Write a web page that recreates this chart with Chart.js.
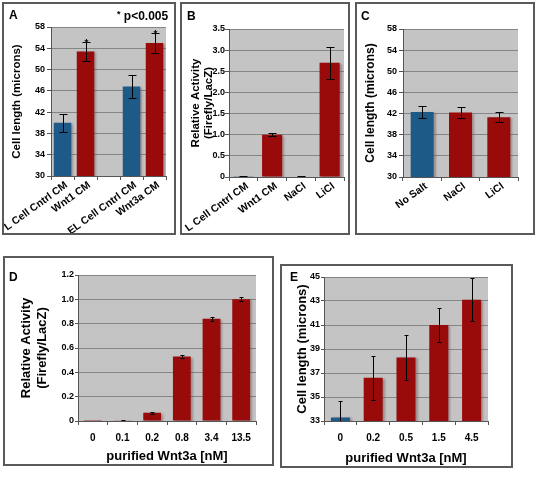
<!DOCTYPE html>
<html><head><meta charset="utf-8">
<script src="https://cdn.jsdelivr.net/npm/chart.js@4.4.1/dist/chart.umd.min.js"></script>
<style>
html,body{margin:0;padding:0;background:#fff;}
body{width:537px;height:477px;position:relative;overflow:hidden;font-family:"Liberation Sans",Arial,sans-serif;}
.box{position:absolute;border:2px solid #5a5a5a;box-sizing:border-box;overflow:hidden;background:#fff;}
.box canvas{position:absolute;left:0;top:0;}
.t{position:absolute;font-weight:bold;color:#000;line-height:1;white-space:nowrap;z-index:2;}
</style></head><body>
<div class="box" style="left:2px;top:2px;width:174px;height:233px"><canvas id="cA" width="170" height="229"></canvas></div>
<div class="box" style="left:180px;top:2px;width:170px;height:233px"><canvas id="cB" width="166" height="229"></canvas></div>
<div class="box" style="left:355px;top:2px;width:180px;height:233px"><canvas id="cC" width="176" height="229"></canvas></div>
<div class="box" style="left:3px;top:256px;width:271px;height:210px"><canvas id="cD" width="267" height="206"></canvas></div>
<div class="box" style="left:280px;top:264px;width:233px;height:204px"><canvas id="cE" width="229" height="200"></canvas></div>
<div class="t" style="left:9px;top:9px;font-size:12px">A</div>
<div class="t" style="left:187px;top:10px;font-size:12px">B</div>
<div class="t" style="left:361px;top:10px;font-size:12px">C</div>
<div class="t" style="left:9px;top:271px;font-size:12px">D</div>
<div class="t" style="left:290px;top:271px;font-size:12px">E</div>
<div class="t" style="left:117px;top:10px;font-size:12px"><span style="font-size:9px;position:relative;top:-3px">*</span> p&lt;0.005</div>
<script>
// ---------- data ----------
const aLabels  = ['L Cell Cntrl CM', 'Wnt1 CM', '', 'EL Cell Cntrl CM', 'Wnt3a CM'];
const aValues  = [40.0, 53.4, null, 46.8, 55.0];
const aErrors  = [1.7, 1.8, null, 2.1, 1.9];
const aControl = [true, false, false, true, false];
const aStars   = [false, true, false, false, true];
const aYTicks  = [30, 34, 38, 42, 46, 50, 54, 58];

const bLabels  = ['L Cell Cntrl CM', 'Wnt1 CM', 'NaCl', 'LiCl'];
const bValues  = [0.005, 1.0, 0.012, 2.7];
const bErrors  = [0.01, 0.04, 0.005, 0.38];
const bControl = [true, false, false, false];
const bYTicks  = [0, 0.5, 1.0, 1.5, 2.0, 2.5, 3.0, 3.5];

const cLabels  = ['No Salt', 'NaCl', 'LiCl'];
const cValues  = [42.3, 42.2, 41.3];
const cErrors  = [1.2, 1.1, 0.95];
const cControl = [true, false, false];
const cYTicks  = [30, 34, 38, 42, 46, 50, 54, 58];

const dLabels  = ['0', '0.1', '0.2', '0.8', '3.4', '13.5'];
const dValues  = [0.001, 0.003, 0.068, 0.53, 0.84, 1.0];
const dErrors  = [0.001, 0.002, 0.007, 0.012, 0.014, 0.017];
const dControl = [false, false, false, false, false, false];
const dYTicks  = [0, 0.2, 0.4, 0.6, 0.8, 1.0, 1.2];

const eLabels  = ['0', '0.2', '0.5', '1.5', '4.5'];
const eValues  = [33.3, 36.6, 38.3, 41.0, 43.1];
const eErrors  = [1.4, 1.85, 1.9, 1.45, 1.8];
const eControl = [true, false, false, false, false];
const eYTicks  = [33, 35, 37, 39, 41, 43, 45];

const cellTitle = 'Cell length (microns)';
const actTitle  = ['Relative Activity', '(Firefly/LacZ)'];
const doseTitle = 'purified Wnt3a [nM]';

// ---------- styles ----------
const BLUE = '#1e5a87', RED = '#990a0a', PLOT_BG = '#c4c4c4', GRID = '#858585', AXIS = '#555555';
const SHADOW = 'rgba(110,70,70,0.45)';
const FAMILY = "'Liberation Sans', Arial, sans-serif";
Chart.defaults.font.family = FAMILY;
Chart.defaults.color = '#000';

const plotBg = {
  id: 'plotbg',
  beforeDraw(chart) {
    const {ctx, chartArea: a} = chart;
    ctx.save(); ctx.fillStyle = PLOT_BG;
    ctx.fillRect(a.left, a.top, a.width, a.height);
    ctx.restore();
  },
  beforeDatasetsDraw(chart) {
    const ctx = chart.ctx;
    ctx.save();
    ctx.shadowColor = SHADOW; ctx.shadowOffsetX = 2; ctx.shadowOffsetY = 1; ctx.shadowBlur = 2;
  },
  afterDatasetsDraw(chart) {
    chart.ctx.restore();
  }
};
const errBars = {
  id: 'errbars',
  afterDatasetsDraw(chart, args, opts) {
    const {ctx, chartArea: a} = chart;
    const ys = chart.scales.y;
    const vals = chart.data.datasets[0].data;
    const meta = chart.getDatasetMeta(0);
    ctx.save();
    ctx.shadowColor = 'transparent';
    ctx.beginPath(); ctx.rect(a.left, a.top - 20, a.width, a.height + 20); ctx.clip();
    ctx.strokeStyle = '#000'; ctx.lineWidth = 1;
    meta.data.forEach((bar, i) => {
      const v = vals[i], e = opts.errors[i];
      if (v == null || e == null) return;
      const x = Math.round(bar.x) + 0.5;
      const top = Math.round(ys.getPixelForValue(v + e)) + 0.5;
      const rawBot = ys.getPixelForValue(v - e);
      const bot = Math.round(Math.min(rawBot, a.bottom)) + 0.5;
      ctx.beginPath();
      ctx.moveTo(x, top); ctx.lineTo(x, bot);
      ctx.moveTo(x - opts.cap, top); ctx.lineTo(x + opts.cap, top);
      if (rawBot <= a.bottom) { ctx.moveTo(x - opts.cap, bot); ctx.lineTo(x + opts.cap, bot); }
      ctx.stroke();
      if (opts.stars && opts.stars[i]) {
        ctx.fillStyle = '#000';
        ctx.font = 'bold 10px ' + FAMILY;
        ctx.textAlign = 'center'; ctx.textBaseline = 'alphabetic';
        ctx.fillText('*', x, top + 4);
      }
    });
    ctx.restore();
  }
};

function makeChart(id, c) {
  const t = c.yTicks;
  return new Chart(document.getElementById(id), {
    type: 'bar',
    data: {
      labels: c.labels,
      datasets: [{
        data: c.values,
        backgroundColor: c.control.map(k => k ? BLUE : RED),
        borderWidth: 0,
        barPercentage: c.barPct,
        categoryPercentage: 1
      }]
    },
    options: {
      responsive: false, animation: false, devicePixelRatio: 1,
      layout: { padding: { left: 0, top: c.area.top, right: c.area.right, bottom: 0 } },
      plugins: {
        legend: { display: false }, tooltip: { enabled: false },
        errbars: { errors: c.errors, stars: c.stars, cap: c.cap }
      },
      scales: {
        x: {
          grid: { drawOnChartArea: false, drawTicks: true, tickLength: 4, color: AXIS, offset: true },
          border: { color: AXIS, width: 1 },
          ticks: { autoSkip: false, minRotation: c.rot, maxRotation: c.rot, color: '#000',
                   font: { size: c.xFont, weight: 'bold' }, padding: c.xPad, labelOffset: c.labelOffset },
          title: c.xTitle ? { display: true, text: c.xTitle, color: '#000', font: { size: 13, weight: 'bold' },
                              padding: { top: 0, bottom: 0 } } : { display: false },
          afterFit: s => { s.height = c.area.xh; s.paddingLeft = 0; s.paddingRight = 0; }
        },
        y: {
          min: t[0], max: t[t.length - 1],
          ticks: { stepSize: t[1] - t[0], color: '#000', font: { size: 9, weight: 'bold' }, padding: c.yPad,
                   callback: c.fmt || (v => v) },
          grid: { color: GRID, tickColor: AXIS, tickLength: c.yTick, drawTicks: true },
          border: { color: AXIS, width: 1 },
          title: { display: true, text: c.yTitle, color: '#000',
                   font: { size: c.yTitleSize, weight: 'bold', lineHeight: c.yTitleLH || 1.2 },
                   padding: { top: c.yTitlePad, bottom: 0 } },
          afterFit: s => { s.width = c.area.left; s.paddingTop = 0; s.paddingBottom = 0; }
        }
      }
    },
    plugins: [plotBg, errBars]
  });
}
const fmt1 = v => (v === 0 ? '0' : Number(v).toFixed(1));

makeChart('cA', { labels: aLabels, values: aValues, errors: aErrors, control: aControl, stars: aStars, yTicks: aYTicks,
  yTitle: cellTitle, yTitleSize: 11.5, yTitlePad: 6, area: { left: 47, top: 23, right: 8, xh: 57 }, yTick: 4, yPad: 2,
  rot: 36, xFont: 10.5, xPad: -1, labelOffset: 4, barPct: 0.76, cap: 4 });
makeChart('cB', { labels: bLabels, values: bValues, errors: bErrors, control: bControl, yTicks: bYTicks, fmt: fmt1,
  yTitle: actTitle, yTitleSize: 11.5, yTitleLH: 1.15, yTitlePad: 7, area: { left: 47, top: 25, right: 4, xh: 56 }, yTick: 4, yPad: 0,
  rot: 36, xFont: 10.5, xPad: -1, labelOffset: 4, barPct: 0.7, cap: 4 });
makeChart('cC', { labels: cLabels, values: cValues, errors: cErrors, control: cControl, yTicks: cYTicks,
  yTitle: cellTitle, yTitleSize: 12, yTitlePad: 6, area: { left: 46, top: 25, right: 15, xh: 56 }, yTick: 4, yPad: 2,
  rot: 36, xFont: 10.5, xPad: -1, labelOffset: 4, barPct: 0.6, cap: 4 });
makeChart('cD', { labels: dLabels, values: dValues, errors: dErrors, control: dControl, yTicks: dYTicks, fmt: fmt1,
  yTitle: actTitle, yTitleSize: 13, yTitlePad: 14, xTitle: doseTitle, area: { left: 73, top: 17, right: 16, xh: 43 },
  yTick: 3, yPad: 1, rot: 0, xFont: 10, xPad: 7, labelOffset: 0, barPct: 0.6, cap: 2 });
makeChart('cE', { labels: eLabels, values: eValues, errors: eErrors, control: eControl, yTicks: eYTicks,
  yTitle: cellTitle, yTitleSize: 13, yTitlePad: 13, xTitle: doseTitle, area: { left: 42, top: 11, right: 23, xh: 45 },
  yTick: 3, yPad: 1, rot: 0, xFont: 10, xPad: 7, labelOffset: 0, barPct: 0.58, cap: 2 });
</script>
</body></html>
